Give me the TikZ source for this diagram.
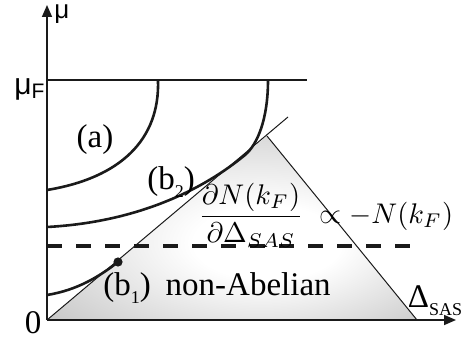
\documentclass[tikz,border=0pt]{standalone}
\usepackage{graphicx}
\usepackage{fontspec}
\setmainfont{Liberation Serif}
\newfontfamily\serifmain{Liberation Serif}
\newfontfamily\greeksans{Liberation Sans}
\usetikzlibrary{arrows.meta}
\definecolor{Ink}{HTML}{1A1A1A}
\definecolor{Shade}{HTML}{BEBEBE}
\pgfdeclareradialshading{fade}{\pgfpoint{6bp}{-5bp}}{color(0bp)=(white);color(10bp)=(white);color(40bp)=(Shade);color(50bp)=(Shade)}
\newcommand{\lowsub}[1]{\raisebox{-4pt}{\fontsize{9}{11}\selectfont #1}}

\begin{document}
\begin{tikzpicture}[x=0.5pt,y=-0.5pt,axis/.style={draw=Ink,line width=0.8pt,-{Triangle[length=6pt,width=5pt]}},branch/.style={draw=Ink,line width=1.3pt},edgeline/.style={draw=Ink,line width=0.5pt},boundary/.style={draw=Ink,line width=2pt,dash pattern=on 7.5pt off 7pt},tag/.style={inner sep=0pt,font=\serifmain\fontsize{16.5}{19}\selectfont}]
\useasboundingbox (0,0) rectangle (474,340);
\coordinate (origin) at (47,320);
\coordinate (apex) at (267,136);
\coordinate (base) at (417,320);
\coordinate (tangent) at (288,117);
\coordinate (xend) at (456,320);
\coordinate (yend) at (47,5);
\coordinate (fermileft) at (47,80);
\coordinate (fermiright) at (307,80);
\coordinate (dashleft) at (47,246);
\coordinate (dashright) at (418,246);
\coordinate (touch) at (118,262);
\shade[shading=fade] (origin) -- (apex) -- (base) -- cycle;
\draw[edgeline] (origin) -- (tangent);
\draw[edgeline] (apex) -- (base);
\draw[edgeline,line width=0.6pt] (fermileft) -- (fermiright);
\draw[boundary] (dashleft) -- (dashright);
\draw[branch] (47,190) .. controls (120,178) and (160,140) .. (158,80);
\draw[branch] (47,227) .. controls (140,222) and (205,188) .. (245,155) .. controls (258,144) and (268,118) .. (268,80);
\draw[branch] (47,295) .. controls (78,290) and (100,276) .. (touch);
\fill[Ink] (touch) circle (2.3pt);
\draw[axis] (origin) -- (xend);
\draw[axis] (origin) -- (yend);
\node[inner sep=0pt,anchor=west,font=\greeksans\fontsize{13}{15}\selectfont] (mu) at (54,14) {μ};
\node[inner sep=0pt,font=\greeksans\fontsize{15}{17}\selectfont] (muF) at (30,89) {μ\textsubscript{F}};
\node[tag] (zero) at (33,323) {0};
\node[tag] (delta) at (435,301) {Δ\lowsub{SAS}};
\node[tag] (casea) at (95,140) {(a)};
\node[tag] (caseb2) at (171,182) {(b\lowsub{2})};
\node[tag,anchor=west] (caseb1) at (103,288) {(b\lowsub{1})\hspace{0.45em}non-Abelian};
\node[inner sep=0pt,anchor=west] (rate) at (198,215) {\scalebox{1.42}{$\displaystyle\frac{\partial N(k_F)}{\partial\Delta_{SAS}}\;\propto -N(k_F)$}};
\end{tikzpicture}
\end{document}
